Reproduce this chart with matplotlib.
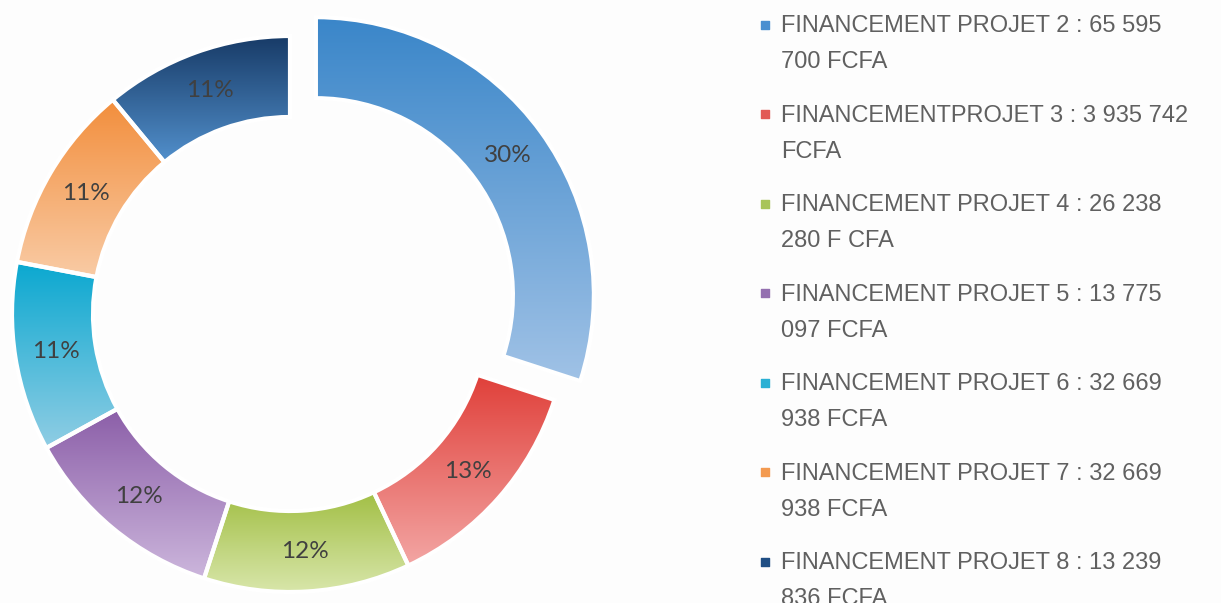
import numpy as np
import matplotlib; matplotlib.use("Agg")
import matplotlib.pyplot as plt
from matplotlib.colors import to_rgb

plt.rcParams['font.family'] = ['Liberation Sans', 'DejaVu Sans']

# data (shares in %, clockwise from 12 o'clock)
shares = [30, 13, 12, 12, 11, 11, 11]
legend_lines = [
    ("FINANCEMENT PROJET 2 : 65 595", "700 FCFA"),
    ("FINANCEMENTPROJET 3 : 3 935 742", "FCFA"),
    ("FINANCEMENT PROJET 4 : 26 238", "280 F CFA"),
    ("FINANCEMENT PROJET 5 : 13 775", "097 FCFA"),
    ("FINANCEMENT PROJET 6 : 32 669", "938 FCFA"),
    ("FINANCEMENT PROJET 7 : 32 669", "938 FCFA"),
    ("FINANCEMENT PROJET 8 : 13 239", "836 FCFA"),
]
top_cols = ["#3a86c9", "#e0403a", "#a2bf45", "#8b5ea8", "#0aa8d0", "#f28e3c", "#173a66"]
bot_cols = ["#a0c2e6", "#f3a6a4", "#d8e6aa", "#ccb6dc", "#90cde4", "#f9cba5", "#5290cc"]
key_cols = ["#4a8fd0", "#e25a56", "#a8c459", "#9470b0", "#2ab0d4", "#f39a50", "#1f4e84"]
explode = [32, 0, 0, 0, 0, 0, 0]   # pixels (data units here)

W, H = 1221, 603
fig = plt.figure(figsize=(W/100, H/100), dpi=100, facecolor="#fdfdfd")
ax = fig.add_axes([0, 0, 1, 1])

R, RIN = 278, 197
cx, cy = 290, H - 314
wedges, _, autotexts = ax.pie(
    shares, radius=R, center=(cx, cy), startangle=90, counterclock=False,
    explode=explode, autopct="%1.0f%%", pctdistance=(R + RIN) / 2 / R,
    wedgeprops=dict(width=R - RIN, edgecolor="white", linewidth=3),
    textprops=dict(color="#404040", fontsize=17.5, family=["Lato", "DejaVu Sans"]))

# vertical gradient per segment, dark on top -> light at bottom
t = np.linspace(0, 1, 256)[:, None]
for w, c0, c1 in zip(wedges, top_cols, bot_cols):
    ext = w.get_path().get_extents()
    a, b = np.array(to_rgb(c0)), np.array(to_rgb(c1))
    img = (a * (1 - t) + b * t)[:, None, :]
    im = ax.imshow(img, extent=(ext.x0, ext.x1, ext.y0, ext.y1), origin="upper",
                   aspect="auto", interpolation="bilinear", zorder=1)
    im.set_clip_path(w)
    w.set_facecolor("none"); w.set_zorder(3)
for txt in autotexts:
    txt.set_zorder(5)

ax.set_xlim(0, W); ax.set_ylim(0, H); ax.axis("off")

# legend, drawn by hand to match the two-line entries
for i, ((l1, l2), kc) in enumerate(zip(legend_lines, key_cols)):
    base = 32.3 + i * 89.5
    ax.scatter([765], [H - base + 7.5], marker="s", s=34, color=kc, zorder=5)
    ax.text(781, H - base, l1, color="#606060", fontsize=17, va="baseline", ha="left")
    ax.text(781, H - base - 36, l2, color="#606060", fontsize=17, va="baseline", ha="left")

plt.savefig("out.png", dpi=100, facecolor=fig.get_facecolor())
plt.close()
